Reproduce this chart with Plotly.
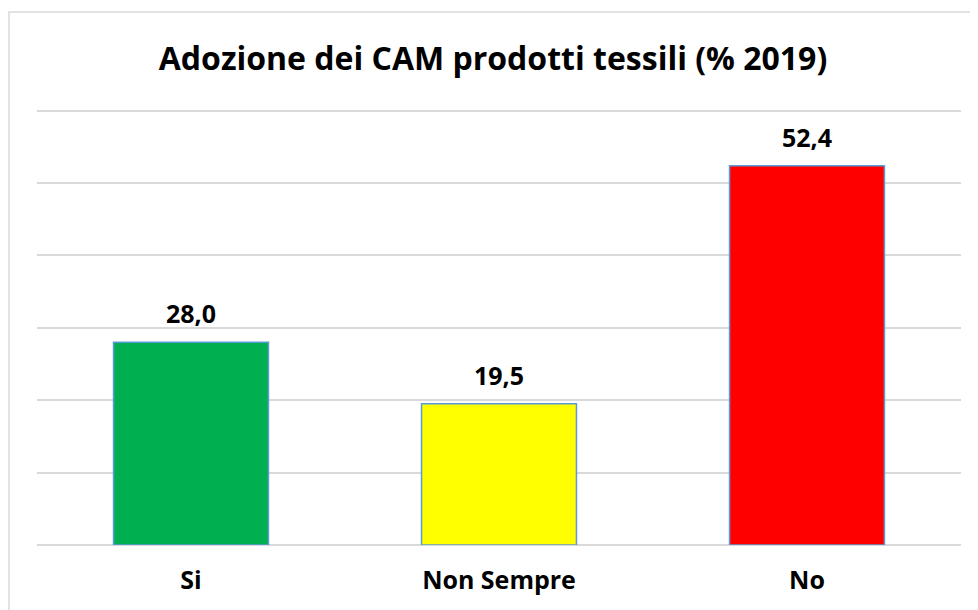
import plotly.graph_objects as go

categories = ["Si", "Non Sempre", "No"]
values = [28.0, 19.5, 52.4]
bar_colors = ["#00b050", "#ffff00", "#ff0000"]
title_text = "Adozione dei CAM prodotti tessili (% 2019)"

# page body adds an 8px margin, so the figure is sized a bit smaller
W, H = 970, 602
ml, mr, mt, mb = 29, 17, 99, 65
pw, ph = W - ml - mr, H - mt - mb

bars = go.Bar(
    x=categories,
    y=values,
    marker=dict(color=bar_colors, line=dict(color="#5b9bd5", width=1.5)),
    width=0.503,
    hoverinfo="x+y",
)

# value labels floating above each bar
labels = [
    dict(x=c, y=v, text=f"<b>{v:.1f}</b>".replace(".", ","), showarrow=False,
         yanchor="bottom", yshift=10,
         font=dict(family="Open Sans", size=25, color="black"))
    for c, v in zip(categories, values)
]

fig = go.Figure(data=[bars])
fig.update_layout(
    width=W, height=H,
    margin=dict(l=ml, r=mr, t=mt, b=mb),
    paper_bgcolor="white",
    plot_bgcolor="white",
    showlegend=False,
    separators=",.",
    title=dict(text=f"<b>{title_text}</b>", x=0.5, xanchor="center",
               y=1 - 51 / H, yanchor="middle",
               font=dict(family="Open Sans", size=32, color="black")),
    annotations=labels,
    shapes=[dict(type="rect", xref="paper", yref="paper",
                 x0=(1 - ml) / pw, x1=(W + 20 - ml) / pw,
                 y0=-(H + 20 - mt - ph) / ph, y1=(H - mb - 4) / ph,
                 line=dict(color="#d9d9d9", width=1.5), layer="below")],
)
fig.update_xaxes(showgrid=False, showline=False, ticks="",
                 tickfont=dict(family="Open Sans", size=25, color="black", weight="bold"),
                 ticklabelstandoff=18)
fig.update_yaxes(range=[0, 60.5], tickvals=[0, 10, 20, 30, 40, 50, 60],
                 showgrid=True, gridcolor="#d9d9d9",
                 gridwidth=1.5, zeroline=True, zerolinecolor="#d9d9d9",
                 zerolinewidth=1.5, showticklabels=False, ticks="")

fig.write_html("out.html")
